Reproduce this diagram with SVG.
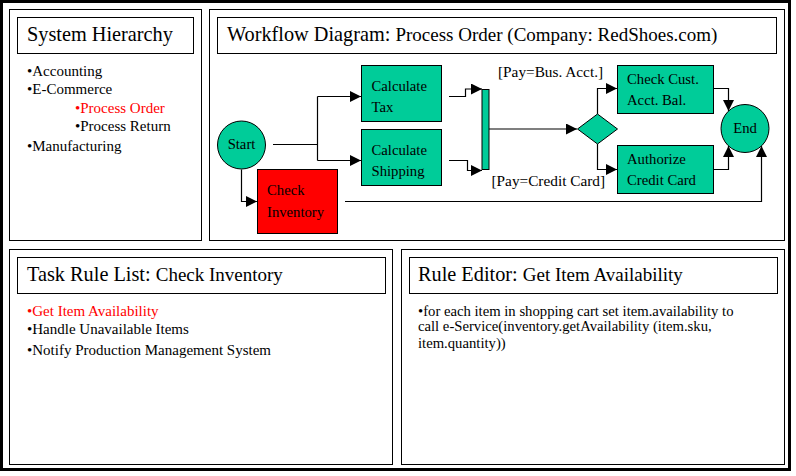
<svg xmlns="http://www.w3.org/2000/svg" width="796" height="476" viewBox="0 0 796 476">
<defs>
<marker id="arr" markerUnits="userSpaceOnUse" markerWidth="12" markerHeight="11" refX="11" refY="5.5" orient="auto">
<path d="M0,0 L11,5.5 L0,11 Z" fill="#000"/>
</marker>
</defs>
<style>
text{font-family:'Liberation Serif','Times New Roman','DejaVu Serif',serif;fill:#000}
.frame{fill:none;stroke:#000;stroke-width:1}
.ttl{font-size:20.3px}
.sub{font-size:19px}
.item{font-size:15px}
.rule{font-size:14.7px}
.red{fill:#ff0000}
.node{fill:#00cc99;stroke:#000;stroke-width:1}
.nt{font-size:14.7px}
.conn path{fill:none;stroke:#000;stroke-width:1.2}
.lbl{font-size:15.3px}
</style>
<rect x="0" y="0" width="796" height="476" fill="#fff"/>
<rect x="1.5" y="1.5" width="788" height="468" fill="none" stroke="#000" stroke-width="3"/>

<g id="panel-system-hierarchy">
<rect class="frame" x="9.5" y="9.5" width="192" height="231"/>
<rect class="frame" x="17.5" y="17.5" width="176" height="36"/>
<text class="ttl" x="27" y="41">System Hierarchy</text>
<text class="item" x="27" y="76">•Accounting</text>
<text class="item" x="27" y="94">•E-Commerce</text>
<text class="item red" x="75" y="112.5">•Process Order</text>
<text class="item" x="75" y="131">•Process Return</text>
<text class="item" x="27" y="151">•Manufacturing</text>
</g>

<g id="panel-workflow">
<rect class="frame" x="209.5" y="9.5" width="575" height="231"/>
<rect class="frame" x="217.5" y="17.5" width="559" height="36"/>
<text x="227" y="41"><tspan class="ttl">Workflow Diagram: </tspan><tspan class="sub">Process Order (Company: RedShoes.com)</tspan></text>
</g>

<g id="panel-task-rules">
<rect class="frame" x="9.5" y="249.5" width="383" height="215"/>
<rect class="frame" x="17.5" y="257.5" width="368" height="36"/>
<text x="27" y="281"><tspan class="ttl">Task Rule List: </tspan><tspan class="sub">Check Inventory</tspan></text>
<text class="item red" x="27" y="316">•Get Item Availability</text>
<text class="item" x="27" y="333.5">•Handle Unavailable Items</text>
<text class="item" x="27" y="355">•Notify Production Management System</text>
</g>

<g id="panel-rule-editor">
<rect class="frame" x="401.5" y="249.5" width="383" height="215"/>
<rect class="frame" x="409.5" y="257.5" width="368" height="36"/>
<text x="418" y="281"><tspan class="ttl">Rule Editor: </tspan><tspan class="sub">Get Item Availability</tspan></text>
<text class="rule" x="418" y="316">•for each item in shopping cart set item.availability to</text>
<text class="rule" x="418" y="331">call e-Service(inventory.getAvailability (item.sku,</text>
<text class="rule" x="418" y="347.5">item.quantity))</text>
</g>

<g id="connectors" class="conn">
<path d="M273,144.5 H317.5"/>
<path d="M317.5,96.5 V160.5"/>
<path d="M317.5,96.5 H361" marker-end="url(#arr)"/>
<path d="M317.5,160.5 H361" marker-end="url(#arr)"/>
<path d="M241.5,169.5 V201.5 H257" marker-end="url(#arr)"/>
<path d="M449,96.5 H465.5 V89 H482" marker-end="url(#arr)"/>
<path d="M449,160.5 H467.5 V170.5 H482" marker-end="url(#arr)"/>
<path d="M489,129 H577" marker-end="url(#arr)"/>
<path d="M597.5,114 V88.5 H617" marker-end="url(#arr)"/>
<path d="M597.5,144 V169.5 H617" marker-end="url(#arr)"/>
<path d="M713,88.5 H728.5 V111" marker-end="url(#arr)"/>
<path d="M713,169.5 H728.5 V146" marker-end="url(#arr)"/>
<path d="M345,201.5 H761.5 V146" marker-end="url(#arr)"/>
</g>

<g id="node-start">
<circle class="node" cx="241.5" cy="145" r="24"/>
<text class="nt" x="241.5" y="148.5" text-anchor="middle">Start</text>
</g>
<g id="node-check-inventory">
<rect x="257.5" y="169.5" width="80" height="64" fill="#ff0000" stroke="#000"/>
<text class="nt" x="267" y="195">Check</text>
<text class="nt" x="267" y="217">Inventory</text>
</g>
<g id="node-calc-tax">
<rect class="node" x="361.5" y="65.5" width="80" height="56"/>
<text class="nt" x="371.5" y="91">Calculate</text>
<text class="nt" x="371.5" y="112">Tax</text>
</g>
<g id="node-calc-shipping">
<rect class="node" x="361.5" y="129.5" width="80" height="56"/>
<text class="nt" x="371.5" y="155">Calculate</text>
<text class="nt" x="371.5" y="176">Shipping</text>
</g>
<g id="node-join-bar">
<rect class="node" x="482" y="89.5" width="7" height="80"/>
</g>
<g id="node-decision">
<polygon class="node" points="597.5,114 617.5,129 597.5,144 577.5,129"/>
</g>
<g id="node-check-cust">
<rect class="node" x="617.5" y="65.5" width="96" height="48"/>
<text class="nt" x="627" y="83.5">Check Cust.</text>
<text class="nt" x="627" y="104.5">Acct. Bal.</text>
</g>
<g id="node-authorize">
<rect class="node" x="617.5" y="145.5" width="96" height="48"/>
<text class="nt" x="627" y="163.5">Authorize</text>
<text class="nt" x="627" y="184.5">Credit Card</text>
</g>
<g id="node-end">
<circle class="node" cx="745" cy="128.5" r="24"/>
<text class="nt" x="745" y="133" text-anchor="middle">End</text>
</g>
<g id="labels">
<text class="lbl" x="498" y="76.5">[Pay=Bus. Acct.]</text>
<text class="lbl" x="491.5" y="186">[Pay=Credit Card]</text>
</g>
</svg>
